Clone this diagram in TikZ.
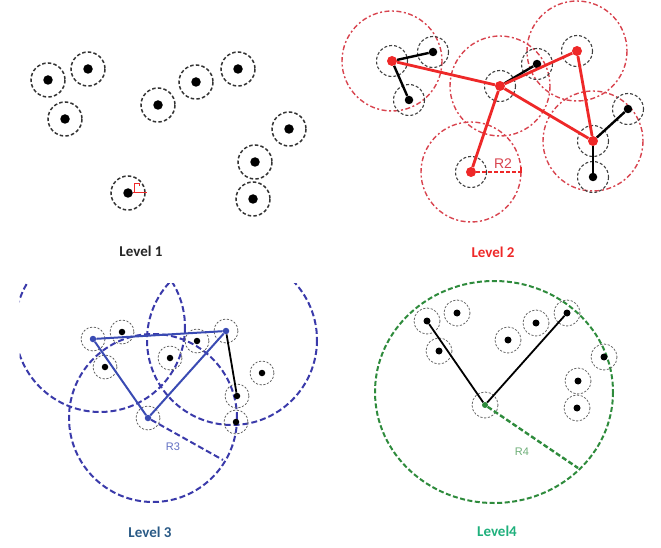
\documentclass[tikz,border=0pt]{standalone}
\usepackage{fontspec}
\setmainfont{Carlito}
\newfontfamily\arialf{Liberation Sans}
\definecolor{redA}{HTML}{EE2828}
\definecolor{redC}{HTML}{D8444F}
\definecolor{blueA}{HTML}{3A4BB3}
\definecolor{blueC}{HTML}{3A3AAA}
\definecolor{greenC}{HTML}{2E8B3C}
\definecolor{lab3}{HTML}{2A5A86}
\definecolor{lab4}{HTML}{1FB07C}
\begin{document}
\begin{tikzpicture}[x=1pt,y=-1pt,
  kdot/.style={circle,fill=black,inner sep=0pt,minimum size=#1},
  kdot/.default=9pt,
  rdot/.style={circle,fill=redA,inner sep=0pt,minimum size=10pt},
  bdot/.style={circle,fill=blueA,inner sep=0pt,minimum size=6.5pt},
  gdot/.style={circle,fill=greenC,inner sep=0pt,minimum size=6pt},
  ringA/.style={draw=black!80,line width=1.5pt,dash pattern=on 3.5pt off 2.2pt},
  ringB/.style={draw=black!75,line width=1.1pt,dash pattern=on 3pt off 2pt},
  ringC/.style={draw=black!60,line width=0.8pt,dash pattern=on 2.2pt off 1.6pt},
  redbig/.style={draw=redC,line width=1.4pt,dash pattern=on 5pt off 2.5pt on 2pt off 2.5pt},
  redline/.style={draw=redA,line width=2.8pt},
  blkline/.style={draw=black,line width=2.4pt},
  bluebig/.style={draw=blueC,line width=2pt,dash pattern=on 6pt off 3pt},
  blueline/.style={draw=blueA,line width=2pt},
  greenbig/.style={draw=greenC,line width=2pt,dash pattern=on 5pt off 2.5pt},
  thinblk/.style={draw=black,line width=1.8pt},
  lvl/.style={font=\bfseries\fontsize{15}{15}\selectfont,inner sep=0pt},
  rlab/.style={font=\arialf\fontsize{11}{11}\selectfont,inner sep=0pt}
]
\useasboundingbox (0,0) rectangle (661,548);

% ---------------- Level 1 ----------------
\foreach \n/\x/\y in {p1/48/80,p2/88/69,p3/65/119,p4/158/105,p5/196/82,p6/238/69,p7/289/129,p8/255/162,p9/253/199,p10/128/193}{
  \node[kdot=9.5pt] (\n) at (\x,\y) {};
  \draw[ringA] (\x,\y) circle (17);
}
\coordinate (m1) at (147,193);
\draw[redA,line width=1pt] (p10) -- (m1);
\draw[redA,line width=1pt] (134,193) -- (134,184) -- (139,184) -- (139,186.5);
\node[lvl,text=black!85] (lv1) at (141,251) {Level 1};

% ---------------- Level 2 ----------------
\foreach \n/\x/\y in {A/392/61,B/500/86,C/577/51,D/593/141,E/471/172}{
  \draw[redbig] (\x,\y) circle (50);
}
\foreach \x/\y in {392/61,500/86,577/51,593/141,471/172,433/52,409/100,537/64,628/109,593/177}{
  \draw[ringB] (\x,\y) circle (15.5);
}
\node[rdot] (A) at (392,61) {};
\node[rdot] (B) at (500,86) {};
\node[rdot] (C) at (577,51) {};
\node[rdot] (D) at (593,141) {};
\node[rdot] (E) at (471,172) {};
\node[kdot=8.5pt] (a1) at (433,52) {};
\node[kdot=8.5pt] (a2) at (409,100) {};
\node[kdot=8.5pt] (b1) at (537,64) {};
\node[kdot=8.5pt] (d1) at (628,109) {};
\node[kdot=8.5pt] (d2) at (593,177) {};
\draw[blkline] (A) -- (a1);
\draw[blkline] (A) -- (a2);
\draw[blkline] (B) -- (b1);
\draw[blkline] (D) -- (d1);
\draw[blkline] (D) -- (d2);
\draw[redline] (A) -- (B);
\draw[redline] (B) -- (C);
\draw[redline] (B) -- (E);
\draw[redline] (B) -- (D);
\draw[redline] (C) -- (D);
\coordinate (r2) at (521,172);
\draw[redA,line width=2.2pt,dash pattern=on 4pt off 2pt] (E) -- (r2);
\draw[redA,line width=1.5pt] (521,167.5) -- (521,173.5);
\node[font=\arialf\fontsize{14}{14}\selectfont,text=redC,inner sep=0pt] (r2lab) at (503,164) {R2};
\node[lvl,text=redA] (lv2) at (493,252) {Level 2};

% ---------------- Level 3 ----------------
\begin{scope}
  \clip (19.5,283) rectangle (330,520);
  \draw[bluebig] (100,327) circle (85);
  \draw[bluebig] (232,340) circle (85);
\end{scope}
\draw[bluebig] (153,418) circle (84);
\foreach \x/\y in {93/339,226/331,148/418,122/332,197/341,170/358,105/367,262/373,237/396,236/422}{
  \draw[ringC] (\x,\y) circle (12);
}
\node[bdot] (P) at (93,339) {};
\node[bdot] (Q) at (226,331) {};
\node[bdot] (S) at (148,418) {};
\node[kdot=6.5pt] (q1) at (122,332) {};
\node[kdot=6.5pt] (q2) at (197,341) {};
\node[kdot=6.5pt] (q3) at (170,358) {};
\node[kdot=6.5pt] (q4) at (105,367) {};
\node[kdot=6.5pt] (q5) at (262,373) {};
\node[kdot=6.5pt] (q6) at (237,396) {};
\node[kdot=6.5pt] (q7) at (236,422) {};
\draw[blueline] (P) -- (Q);
\draw[blueline] (P) -- (S);
\draw[blueline] (Q) -- (S);
\draw[thinblk] (Q) -- (q6);
\coordinate (r3) at (223,460);
\draw[bluebig] (S) -- (r3);
\node[rlab,text=blueA!80] (r3lab) at (173,447) {R3};
\node[lvl,text=lab3] (lv3) at (150,532) {Level 3};

% ---------------- Level 4 ----------------
\draw[greenbig] (494,392) ellipse [x radius=119, y radius=111];
\foreach \x/\y in {485/405,427/321,457/313,439/351,508/340,536/323,567/313,604/357,578/381,577/408}{
  \draw[ringC] (\x,\y) circle (13);
}
\node[gdot] (G) at (485,405) {};
\node[kdot=7pt] (g1) at (427,321) {};
\node[kdot=7pt] (g2) at (457,313) {};
\node[kdot=7pt] (g3) at (439,351) {};
\node[kdot=7pt] (g4) at (508,340) {};
\node[kdot=7pt] (g5) at (536,323) {};
\node[kdot=7pt] (g6) at (567,313) {};
\node[kdot=7pt] (g7) at (604,357) {};
\node[kdot=7pt] (g8) at (578,381) {};
\node[kdot=7pt] (g9) at (577,408) {};
\draw[thinblk] (G) -- (g1);
\draw[thinblk] (G) -- (g6);
\coordinate (r4) at (578,468);
\draw[greenbig,line width=2.4pt] (G) -- (r4);
\node[rlab,text=greenC!70] (r4lab) at (522,452) {R4};
\node[lvl,text=lab4] (lv4) at (497,531) {Level4};
\end{tikzpicture}
\end{document}
